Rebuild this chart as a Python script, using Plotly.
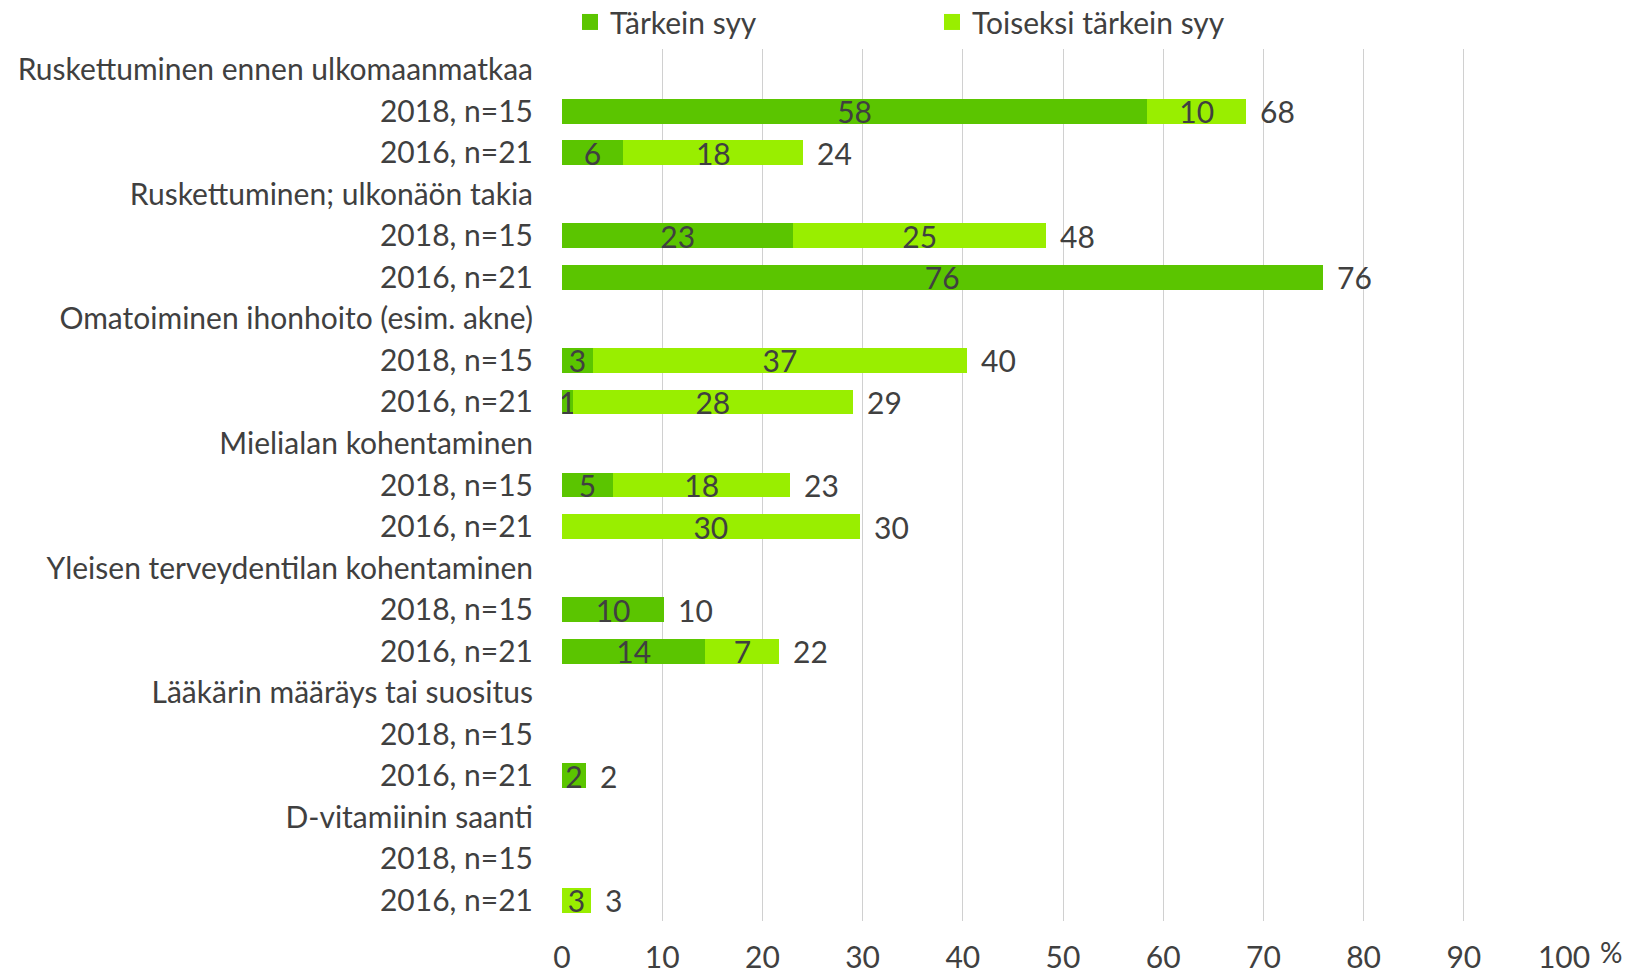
import plotly.graph_objects as go

row_labels = [
    "Ruskettuminen ennen ulkomaanmatkaa", "2018, n=15", "2016, n=21",
    "Ruskettuminen; ulkonäön takia", "2018, n=15", "2016, n=21",
    "Omatoiminen ihonhoito (esim. akne)", "2018, n=15", "2016, n=21",
    "Mielialan kohentaminen", "2018, n=15", "2016, n=21",
    "Yleisen terveydentilan kohentaminen", "2018, n=15", "2016, n=21",
    "Lääkärin määräys tai suositus", "2018, n=15", "2016, n=21",
    "D-vitamiinin saanti", "2018, n=15", "2016, n=21",
]
tarkein = [None, 58.4, 6.1, None, 23.1, 75.9, None, 3.1, 1.1, None, 5.1, None,
           None, 10.2, 14.3, None, None, 2.4, None, None, None]
toiseksi = [None, 9.9, 18.0, None, 25.2, None, None, 37.3, 27.9, None, 17.7, 29.7,
            None, None, 7.4, None, None, None, None, None, 2.9]
x_ticks = [0, 10, 20, 30, 40, 50, 60, 70, 80, 90, 100]

c1 = "#5bc500"
c2 = "#99ee00"
txt = "#404040"
FONT = "Lato"
FS = 30

ypos = list(range(len(row_labels)))


def lab(v):
    return "" if v is None else f"{v:.0f}"


fig = go.Figure()
for vals, name, col in [(tarkein, "Tärkein syy", c1), (toiseksi, "Toiseksi tärkein syy", c2)]:
    fig.add_trace(go.Bar(
        y=ypos, x=vals, orientation="h", name=name, showlegend=False,
        marker=dict(color=col, line=dict(width=0)), width=0.6,
        text=[lab(v) for v in vals], textposition="inside", insidetextanchor="middle",
        textangle=0, constraintext="none",
        textfont=dict(color=txt, size=FS, family=FONT), hoverinfo="skip",
    ))
    # legend entry with a larger square swatch
    fig.add_trace(go.Scatter(
        x=[None], y=[None], mode="markers", name=name,
        marker=dict(symbol="square", size=16, color=col), hoverinfo="skip",
    ))

totals = []
for a, b in zip(tarkein, toiseksi):
    if a is None and b is None:
        totals.append(None)
    else:
        totals.append((a or 0) + (b or 0))

annotations = []
for yv, t in zip(ypos, totals):
    if t is None:
        continue
    annotations.append(dict(x=t, y=yv, xref="x", yref="y", text=lab(t), showarrow=False,
                            xanchor="left", yanchor="middle", xshift=12,
                            font=dict(size=FS, color=txt, family=FONT)))
annotations.append(dict(text="%", x=1.047, xref="paper", xanchor="center",
                        y=-0.035, yref="paper", yanchor="middle", showarrow=False,
                        font=dict(size=28, color=txt, family=FONT)))

fig.update_layout(
    width=1629, height=974,
    barmode="stack",
    plot_bgcolor="white", paper_bgcolor="white",
    margin=dict(l=562, r=65, t=49, b=53, autoexpand=False),
    font=dict(family=FONT, size=FS, color=txt),
    uniformtext=dict(minsize=FS, mode="show"),
    legend=dict(orientation="h", xref="paper", yref="paper",
                x=0.008, xanchor="left", y=1.031, yanchor="middle",
                entrywidth=317, entrywidthmode="pixels",
                font=dict(size=FS, color=txt, family=FONT), traceorder="normal",
                bgcolor="rgba(0,0,0,0)"),
    xaxis=dict(range=[0, 100], tickvals=x_ticks, showgrid=True, gridcolor="#d0d0d0",
               gridwidth=1, zeroline=False, showline=False, ticks="",
               ticklabelstandoff=16, tickfont=dict(size=FS, color=txt, family=FONT)),
    yaxis=dict(tickvals=ypos, ticktext=row_labels, autorange=False,
               range=[len(row_labels) - 0.5, -0.5], showgrid=False, zeroline=False,
               showline=False, ticks="", ticklabelstandoff=28,
               tickfont=dict(size=FS, color=txt, family=FONT)),
    annotations=annotations,
)
fig.write_html("out.html", post_script="document.body.style.margin='0';",
               config={"displayModeBar": False})
